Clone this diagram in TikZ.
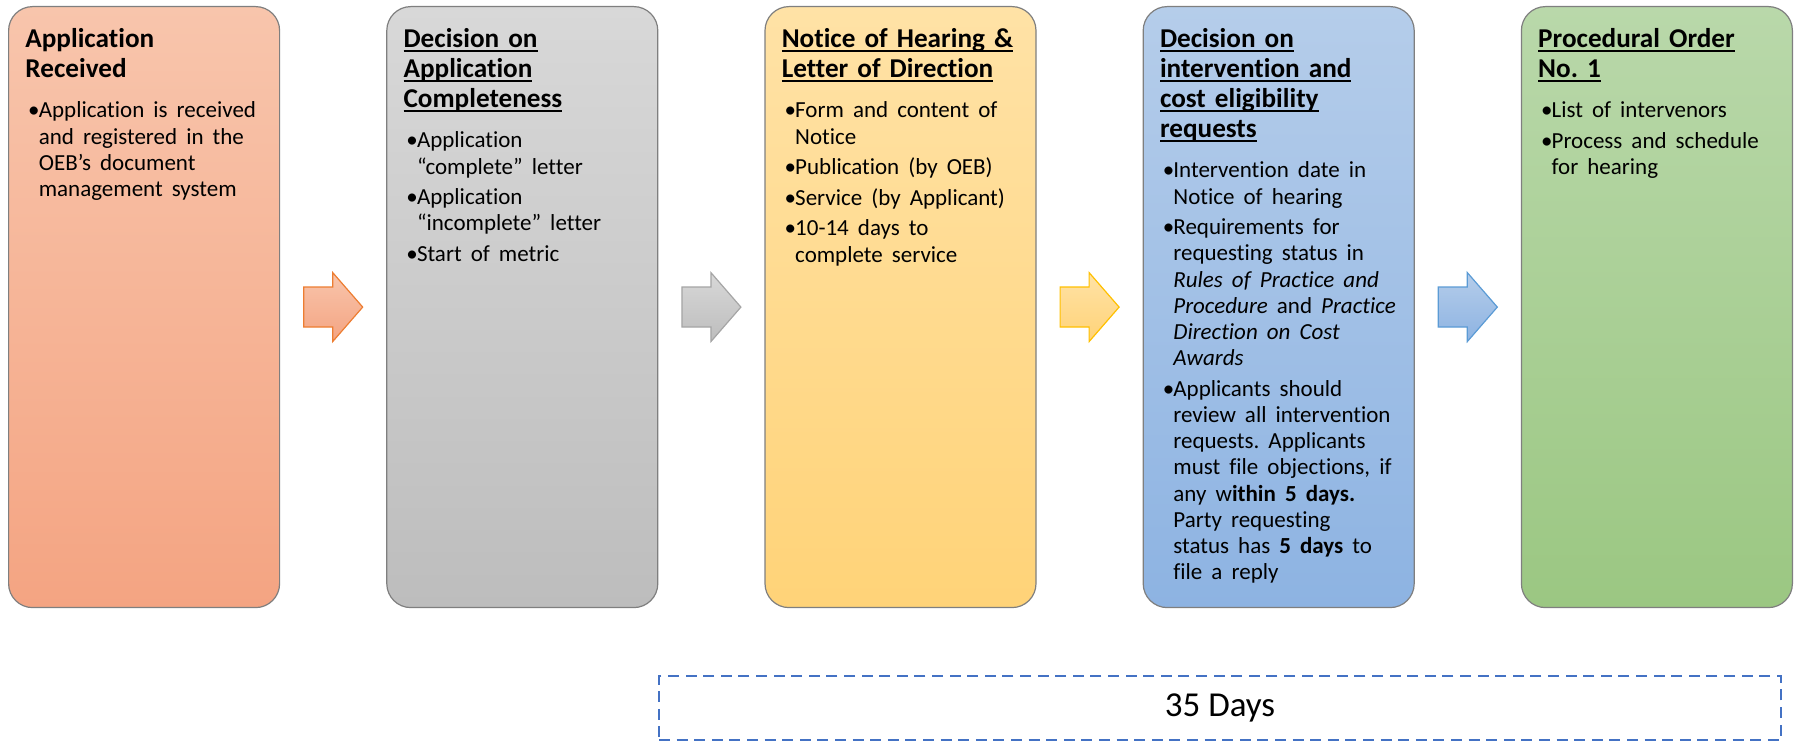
\documentclass[tikz,border=0pt]{standalone}
\usepackage{fontspec}
\setmainfont{Carlito}[Ligatures={TeX,NoCommon}]
\usetikzlibrary{calc,positioning}

\setlength{\parindent}{0pt}
\frenchspacing

% box colours (top, bottom, outline of the arrow)
\definecolor{recvtop}{HTML}{F8C5AC}
\definecolor{recvbot}{HTML}{F4A482}
\definecolor{recvline}{HTML}{ED7D31}
\definecolor{compltop}{HTML}{D8D8D8}
\definecolor{complbot}{HTML}{BDBDBD}
\definecolor{complline}{HTML}{A5A5A5}
\definecolor{noticetop}{HTML}{FFE2A6}
\definecolor{noticebot}{HTML}{FFD378}
\definecolor{noticeline}{HTML}{FFC000}
\definecolor{intervtop}{HTML}{B5CDEA}
\definecolor{intervbot}{HTML}{8DB3E2}
\definecolor{intervline}{HTML}{5B9BD5}
\definecolor{proctop}{HTML}{B9D8AA}
\definecolor{procbot}{HTML}{9BC782}
\definecolor{boxline}{HTML}{7F7F7F}
\definecolor{daysline}{HTML}{4472C4}

\newcommand{\titlefont}{\fontsize{13.6}{15}\selectfont\bfseries}
\newcommand{\bodyfont}{\normalfont\fontsize{11.5}{13.1}\selectfont\parskip=2.2pt\relax}
% underline at a fixed depth, running through descenders
\newcommand{\titleline}[1]{\setbox0\hbox{#1}\rlap{\rule[-2.3pt]{\wd0}{0.75pt}}\box0}
% one bullet point with hanging indent
\newcommand{\bpoint}{\par\hangindent=6.7pt\hangafter=1\noindent\makebox[6.7pt][l]{\hspace{1.4pt}\textbullet}}
% gap between heading and first bullet
\newcommand{\headgap}{\par\vspace{5pt}\bodyfont}

\tikzset{
  stagebox/.style={draw=boxline, line width=0.6pt, rounded corners=12pt,
    minimum width=135.5pt, minimum height=300.5pt, inner sep=0pt},
  stagetext/.style={anchor=north west, inner sep=0pt, text width=123pt,
    font=\titlefont},
  daysbox/.style={draw=daysline, line width=1pt, dash pattern=on 5.5pt off 3.3pt,
    minimum width=561pt, minimum height=32pt, inner sep=0pt,
    font=\fontsize{17.5}{21}\selectfont}
}

\begin{document}
\begin{tikzpicture}[x=0.5pt,y=-0.5pt]
\useasboundingbox (0,0) rectangle (1796,742);

% Stage boxes
\node[stagebox, anchor=north west, top color=recvtop, bottom color=recvbot] (recv) at (8,6) {};
\node[stagebox, right=53pt of recv, top color=compltop, bottom color=complbot] (compl) {};
\node[stagebox, right=53pt of compl, top color=noticetop, bottom color=noticebot] (notice) {};
\node[stagebox, right=53pt of notice, top color=intervtop, bottom color=intervbot] (interv) {};
\node[stagebox, right=53pt of interv, top color=proctop, bottom color=procbot] (proc) {};

% Box texts
\node[stagetext] (recvtext) at ([shift={(17,17)}]recv.north west) {%
  \rule{0pt}{12pt}Application\newline Received
  \headgap
  \bpoint Application is received\newline and registered in the\newline
  OEB's document\newline management system\par};

\node[stagetext] (compltext) at ([shift={(17,17)}]compl.north west) {%
  \rule{0pt}{12pt}\titleline{Decision on}\newline \titleline{Application}\newline
  \titleline{Completeness}
  \headgap
  \bpoint Application\newline “complete” letter
  \bpoint Application\newline “incomplete” letter
  \bpoint Start of metric\par};

\node[stagetext] (noticetext) at ([shift={(17,17)}]notice.north west) {%
  \rule{0pt}{12pt}\titleline{Notice of Hearing \&}\newline
  \titleline{Letter of Direction}
  \headgap
  \bpoint Form and content of\newline Notice
  \bpoint Publication (by OEB)
  \bpoint Service (by Applicant)
  \bpoint 10-14 days to\newline complete service\par};

\node[stagetext] (intervtext) at ([shift={(17,17)}]interv.north west) {%
  \rule{0pt}{12pt}\titleline{Decision on}\newline \titleline{intervention and}\newline
  \titleline{cost eligibility}\newline \titleline{requests}
  \headgap
  \bpoint Intervention date in\newline Notice of hearing
  \bpoint Requirements for\newline requesting status in\newline
  \textit{Rules of Practice and}\newline \textit{Procedure} and \textit{Practice}\newline
  \textit{Direction on Cost}\newline \textit{Awards}
  \bpoint Applicants should\newline review all intervention\newline
  requests. Applicants\newline must file objections, if\newline
  any w\textbf{ithin 5 days.}\newline Party requesting\newline
  status has \textbf{5 days} to\newline file a reply\par};

\node[stagetext] (proctext) at ([shift={(17,17)}]proc.north west) {%
  \rule{0pt}{12pt}\titleline{Procedural Order}\newline \titleline{No. 1}
  \headgap
  \bpoint List of intervenors
  \bpoint Process and schedule\newline for hearing\par};

% Block arrows between the stages
\foreach \from/\to in {recv/compl, compl/notice, notice/interv, interv/proc}{
  \coordinate (\from arrow) at ($(\from.east)!0.5!(\to.west)$);
  \draw[draw=\from line, line width=0.6pt, top color=\from top, bottom color=\from bot]
    (\from arrow) ++(-29.5,-20) -- ++(29,0) -- ++(0,-14.5) -- ++(30,34.5)
    -- ++(-30,34.5) -- ++(0,-14.5) -- ++(-29,0) -- cycle;
}

% Duration
\node[daysbox] (days) at (1220,708) {35 Days};

\end{tikzpicture}
\end{document}
